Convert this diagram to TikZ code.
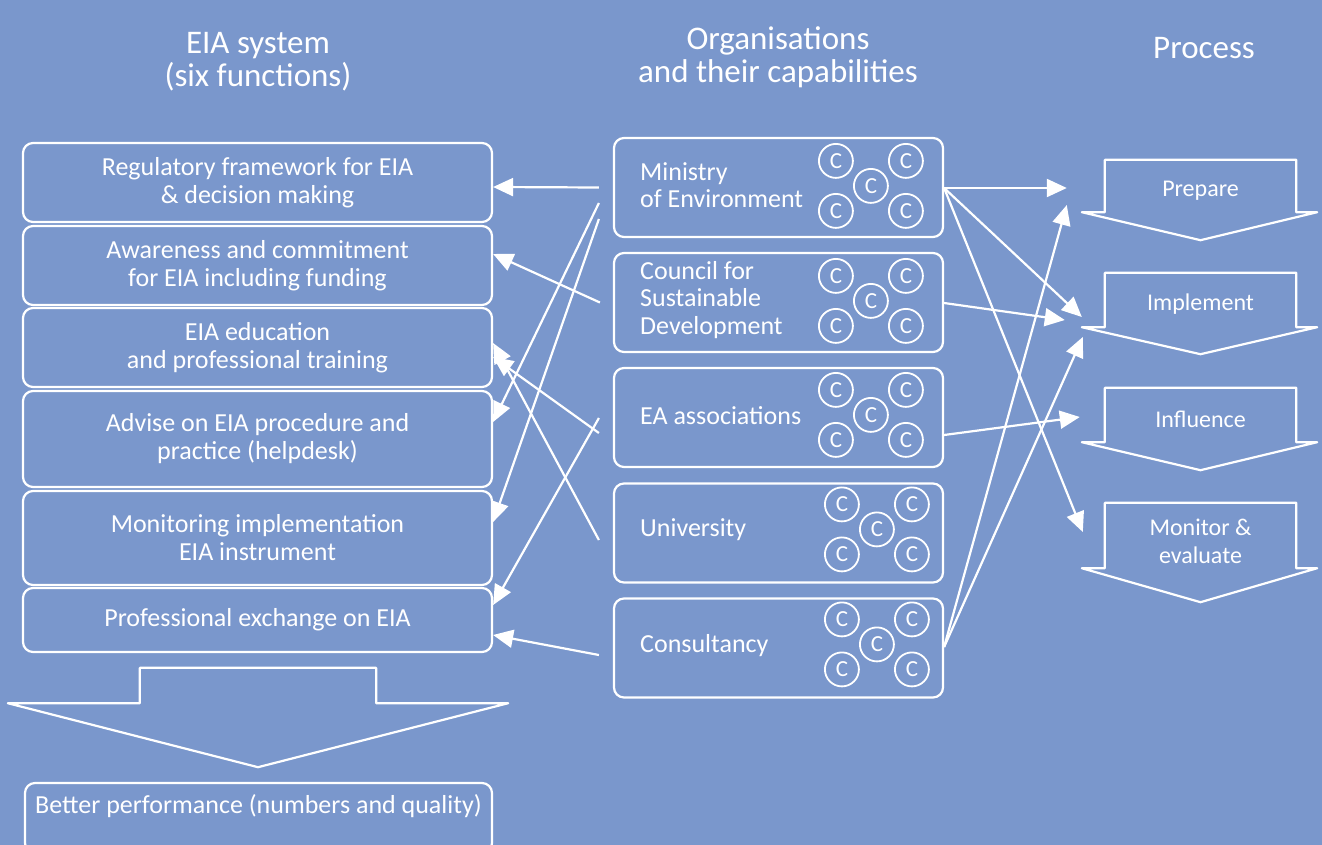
\documentclass[tikz,border=0pt]{standalone}
\usepackage{fontspec}
\setmainfont{Carlito}
\usetikzlibrary{arrows.meta,calc}
\definecolor{bg}{RGB}{122,151,204}
\newcommand\fsz[2]{\fontsize{#1}{#2}\selectfont}
\begin{document}
\begin{tikzpicture}[x=1pt,y=-1pt,
  lbox/.style={draw=white, line width=2.2pt, rounded corners=10pt, inner sep=0pt, align=center, text=white, font=\fsz{26}{28}, minimum width=469pt},
  mbox/.style={draw=white, line width=2.2pt, rounded corners=10pt, inner sep=0pt, minimum width=329pt, minimum height=99pt},
  mtext/.style={anchor=west, align=left, text=white, font=\fsz{26}{27.5}, inner sep=0pt},
  cbub/.style={draw=white, line width=1.8pt, circle, minimum size=34pt, inner sep=0pt, text=white, font=\fsz{23}{23}},
  pbox/.style={inner sep=0pt, minimum width=191pt},
  ptext/.style={inner sep=0pt, align=center, text=white, font=\fsz{24}{28}},
  head/.style={inner sep=0pt, align=center, text=white, font=\fsz{33}{33}},
  outl/.style={draw=white, line width=2.2pt, line join=round},
  arr/.style={draw=white, line width=2.2pt, -{Triangle[length=20pt,width=18pt]}}
]
\clip (0,0) rectangle (1322,845);
\fill[bg] (0,0) rectangle (1322,845);

% headers
\node[head] (h1) at (258,62) {EIA system\\(six functions)};
\node[head] (h2) at (778,57) {Organisations\\and their capabilities};
\node[head] (h3) at (1204,48) {Process};

% left column
\node[lbox, minimum height=79pt] (reg) at (257.5,182.5) {Regulatory framework for EIA\\\& decision making};
\node[lbox, minimum height=79pt] (awa) at (257.5,265.5) {Awareness and commitment\\for EIA including funding};
\node[lbox, minimum height=79pt] (edu) at (257.5,347.5) {EIA education\\and professional training};
\node[lbox, minimum height=96pt] (adv) at (257.5,439) {Advise on EIA procedure and\\practice (helpdesk)};
\node[lbox, minimum height=94pt] (mon) at (257.5,538) {Monitoring implementation\\EIA instrument};
\node[lbox, minimum height=64pt] (pro) at (257.5,620) {Professional exchange on EIA};

% big down arrow
\node[inner sep=0pt, minimum width=236pt, minimum height=35pt] (down) at (258,685.5) {};
\draw[outl] (down.south west) -- (down.north west) -- (down.north east) -- (down.south east) -- ++(132,0) -- ($(down.south)+(0,64)$) -- ($(down.south west)+(-132,0)$) -- cycle;

\node[lbox, minimum width=467pt, minimum height=70pt, text depth=28pt] (better) at (258.5,818) {Better performance (numbers and quality)};

% middle column
\node[mbox] (min) at (778.5,187.5) {};
\node[mbox] (cou) at (778.5,302.5) {};
\node[mbox] (eaa) at (778.5,417.5) {};
\node[mbox] (uni) at (778.5,533) {};
\node[mbox] (con) at (778.5,648) {};

\node[mtext] (mint) at (640,185) {Ministry\\of Environment};
\node[mtext] (cout) at (640,300) {Council for\\Sustainable\\Development};
\node[mtext] (eaat) at (640,416) {EA associations};
\node[mtext] (unit) at (640,530) {University};
\node[mtext] (cont) at (640,646) {Consultancy};

\foreach \b/\dx/\dy in {min/0/0, cou/0/0, eaa/0/-1, uni/6/-2, con/6/-2} {
  \foreach \i/\cx/\cy in {1/223/24, 2/293/24, 3/258/49, 4/223/74, 5/293/74} {
    \node[cbub] (\b-c\i) at ($(\b.north west)+(\cx+\dx,\cy+\dy)$) {C};
  }
}

% process column
\node[pbox, minimum height=52pt] (prep) at (1200.5,186) {};
\node[pbox, minimum height=54pt] (impl) at (1200.5,300) {};
\node[pbox, minimum height=54pt] (infl) at (1200.5,415) {};
\node[pbox, minimum height=65pt] (mone) at (1200.5,535.5) {};
\node[ptext] (prept) at ($(prep)+(0,5)$) {Prepare};
\node[ptext] (implt) at ($(impl)+(0,4)$) {Implement};
\node[ptext] (inflt) at ($(infl)+(0,4)$) {Influence};
\node[ptext] (monet) at ($(mone)+(0,6)$) {Monitor \&\\evaluate};
\foreach \p/\t in {prep/28, impl/27, infl/28, mone/34} {
  \draw[outl] (\p.south west) -- (\p.north west) -- (\p.north east) -- (\p.south east) -- ++(21,0) -- ($(\p.south)+(0,\t)$) -- ($(\p.south west)+(-23,0)$) -- cycle;
}

% arrows to the left column
\draw[arr] ($(min.west)+(-14,0)$) -- ($(reg.east)+(0,4.5)$);
\draw[arr] ($(min.west)+(-14,15.5)$) -- ($(adv.east)+(0,-17)$);
\draw[arr] ($(min.west)+(-14,31.5)$) -- ($(mon.east)+(0,-16)$);
\draw[arr] ($(cou.west)+(-13,0)$) -- ($(awa.east)+(0,-11.5)$);
\draw[arr] ($(eaa.west)+(-14,15.5)$) -- ($(edu.east)+(0,9.5)$);
\draw[arr] ($(eaa.west)+(-14,0.5)$) -- ($(pro.east)+(0,-15)$);
\draw[arr] ($(uni.west)+(-14,7)$) -- ($(edu.east)+(0,-4.5)$);
\draw[arr] ($(con.west)+(-14,7)$) -- ($(pro.east)+(0,15)$);

% arrows to the process column
\draw[arr] ($(min.east)+(0,0.5)$) -- ($(prep.west)+(-38,2)$);
\draw[arr] ($(min.east)+(0,0.5)$) -- ($(impl.west)+(-23,17)$);
\draw[arr] ($(min.east)+(0,0.5)$) -- ($(mone.west)+(-22,-3.5)$);
\draw[arr] ($(cou.east)+(0,0.5)$) -- ($(impl.west)+(-40,20)$);
\draw[arr] ($(eaa.east)+(0,17.5)$) -- ($(infl.west)+(-25,2)$);
\draw[arr] ($(con.east)+(0,-1)$) -- ($(prep.west)+(-38,19)$);
\draw[arr] ($(con.east)+(0,-1)$) -- ($(impl.west)+(-22,37)$);
\end{tikzpicture}
\end{document}
